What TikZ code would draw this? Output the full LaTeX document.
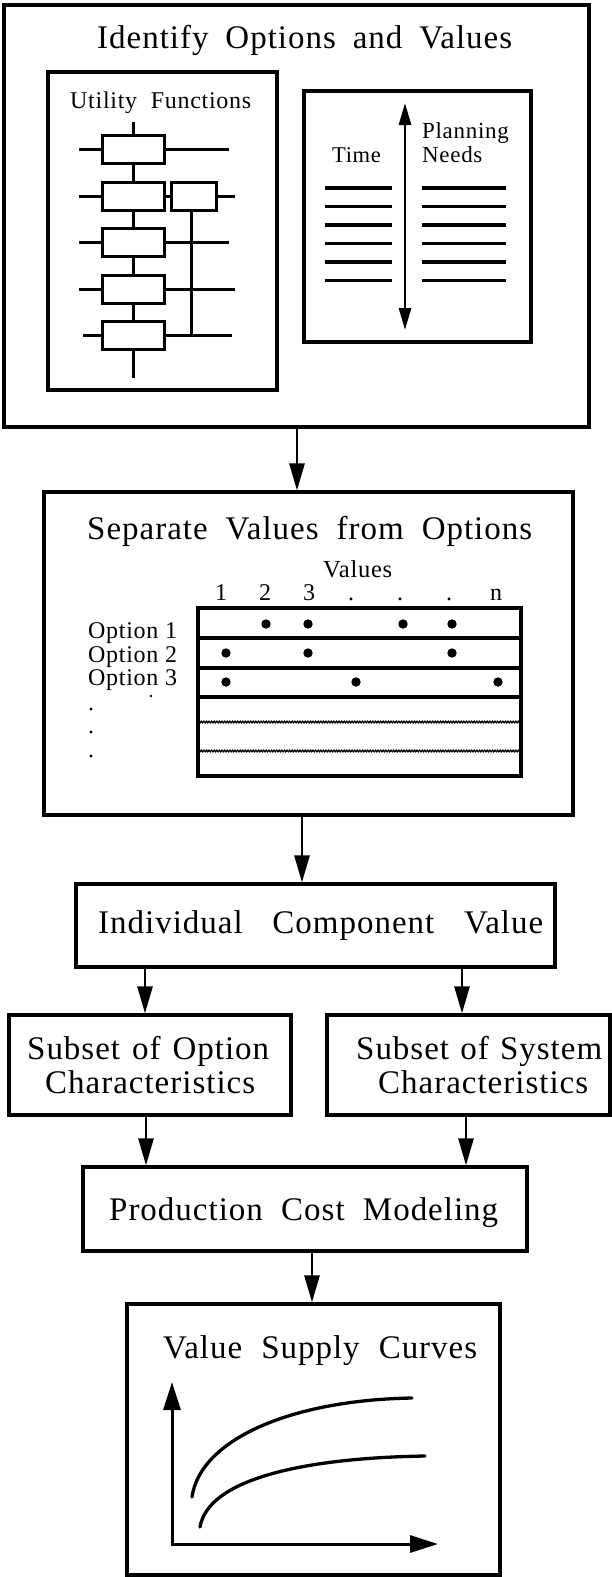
\documentclass[tikz,border=0pt]{standalone}
\usepackage{fontspec}
\setmainfont{Liberation Serif}[LetterSpace=3]
\usetikzlibrary{arrows.meta,fit,decorations.pathmorphing}
\begin{document}
\begin{tikzpicture}[x=1pt,y=-1pt,
  frame/.style={draw, line width=3.2pt, inner sep=0pt},
  ubox/.style={draw, fill=white, line width=3pt, inner sep=0pt, minimum width=62pt, minimum height=28pt},
  conn/.style={line width=2.8pt, -{Triangle[length=27pt,width=15pt]}},
  head/.style={anchor=base west, inner sep=0pt, font=\fontsize{33}{38}\selectfont},
  lab/.style={anchor=base west, inner sep=0pt, font=\fontsize{24}{28}\selectfont},
  num/.style={anchor=base, inner sep=0pt, font=\fontsize{24}{28}\selectfont},
  thick line/.style={line width=3pt}]
\useasboundingbox (0,0) rectangle (612,1577);
\fill[white] (0,0) rectangle (612,1577);

% ---------- main boxes ----------
\node[frame, fit={(4,5) (589,427)}] (box1) {};
\node[frame, fit={(44,492) (573,815)}] (box2) {};
\node[frame, fit={(76,884) (555,967)}] (box3) {};
\node[frame, fit={(9,1015) (291,1115)}] (box4a) {};
\node[frame, fit={(327,1015) (610,1115)}] (box4b) {};
\node[frame, fit={(83,1167) (527,1251)}] (box5) {};
\node[frame, fit={(127,1304) (500,1575)}] (box6) {};

% ---------- titles ----------
\node[head] (t1) at (97,48) {\makebox[415pt][s]{Identify Options and Values}};
\node[head] (t2) at (87,539) {\makebox[445pt][s]{Separate Values from Options}};
\node[head] (t3) at (98,933) {\makebox[445pt][s]{Individual Component Value}};
\node[head] (t4a) at (27,1059) {\makebox[242pt][s]{Subset of Option}};
\node[head] (t4b) at (45,1093) {Characteristics};
\node[head] (t4c) at (356,1059) {\makebox[246pt][s]{Subset of System}};
\node[head] (t4d) at (378,1093) {Characteristics};
\node[head] (t5) at (109,1220) {\makebox[389pt][s]{Production Cost Modeling}};
\node[head] (t6) at (163,1358) {\makebox[314pt][s]{Value Supply Curves}};

% ---------- connectors ----------
\coordinate (g1) at (297,0);
\coordinate (g2) at (302,0);
\coordinate (g3) at (145,0);
\coordinate (g4) at (462,0);
\coordinate (g5) at (146,0);
\coordinate (g6) at (466,0);
\coordinate (g7) at (312,0);
\draw[conn] (box1.south -| g1) -- (box2.north -| g1);
\draw[conn] (box2.south -| g2) -- (box3.north -| g2);
\draw[conn] (box3.south -| g3) -- (box4a.north -| g3);
\draw[conn] (box3.south -| g4) -- (box4b.north -| g4);
\draw[conn] (box4a.south -| g5) -- (box5.north -| g5);
\draw[conn] (box4b.south -| g6) -- (box5.north -| g6);
\draw[conn] (box5.south -| g7) -- (box6.north -| g7);

% ---------- utility functions panel ----------
\node[frame, fit={(48,72) (277,390)}] (ubox) {};
\node[lab] (ulab) at (70,108) {\makebox[181pt][s]{Utility Functions}};
\draw[thick line] (133,122) -- (133,378);
\draw[thick line] (191,196) -- (191,335);
\node[ubox] (u1) at (133,149) {};
\node[ubox] (u2) at (133,196) {};
\node[ubox] (u3) at (133,242) {};
\node[ubox] (u4) at (133,289) {};
\node[ubox] (u5) at (133,335) {};
\node[ubox, minimum width=45pt] (u6) at (193.5,196) {};
\draw[thick line] (u1.west) -- ++(-22,0);
\draw[thick line] (u2.west) -- ++(-22,0);
\draw[thick line] (u3.west) -- ++(-22,0);
\draw[thick line] (u4.west) -- ++(-22,0);
\draw[thick line] (u5.west) -- ++(-18,0);
\draw[thick line] (u1.east) -- ++(63,0);
\draw[thick line] (u2.east) -- (u6.west);
\draw[thick line] (u6.east) -- ++(17,0);
\draw[thick line] (u3.east) -- ++(63,0);
\draw[thick line] (u4.east) -- ++(69,0);
\draw[thick line] (u5.east) -- ++(66,0);

% ---------- time / planning needs panel ----------
\node[frame, fit={(304,91) (531,342)}] (tbox) {};
\node[lab, font=\fontsize{22.5}{26}\selectfont] (ttime) at (332,162) {Time};
\node[lab, font=\fontsize{23}{26}\selectfont] (tplan) at (422,138) {Planning};
\node[lab, font=\fontsize{23}{26}\selectfont] (tneed) at (422,162) {Needs};
\coordinate (atop) at (405,103);
\coordinate (abot) at (405,330);
\draw[line width=2.8pt, {Triangle[length=22pt,width=12pt]}-{Triangle[length=22pt,width=12pt]}] (atop) -- (abot);
\foreach \yy in {188,206.5,225,243.5,262,280.5} {
  \draw[line width=3.4pt] (325,\yy) -- (392,\yy);
  \draw[line width=3.4pt] (422,\yy) -- (506,\yy);
}

% ---------- options / values table ----------
\node[lab, font=\fontsize{24.5}{28}\selectfont] (vlab) at (323,577) {Values};
\node[num] at (221,600) {1};
\node[num] at (265,600) {2};
\node[num] at (309,600) {3};
\node[num] at (351,600) {.};
\node[num] at (400,600) {.};
\node[num] at (449,600) {.};
\node[num] at (496,600) {n};
\node[lab] (o1) at (88,638) {Option 1};
\node[lab] (o2) at (88,662) {Option 2};
\node[lab] (o3) at (88,685) {Option 3};
\fill (151,696) circle[radius=1.3pt];
\fill (91,709) circle[radius=1.7pt];
\fill (91,732) circle[radius=1.7pt];
\fill (91,756) circle[radius=1.7pt];
\node[frame, fit={(198,608) (521,776)}] (tab) {};
\foreach \yy in {638,668,697} \draw[line width=3.4pt] (198,\yy) -- (521,\yy);
\foreach \yy in {722,751}
  \draw[line width=1.3pt, decorate, decoration={zigzag, segment length=2.6pt, amplitude=0.8pt}] (198,\yy) -- (521,\yy);
\foreach \xx in {266,308,403,452} \fill (\xx,624) circle[radius=4.7pt];
\foreach \xx in {226,308,452} \fill (\xx,653) circle[radius=4.7pt];
\foreach \xx in {226,356,498} \fill (\xx,682) circle[radius=4.7pt];

% ---------- supply curves ----------
\coordinate (ytip) at (172,1382);
\coordinate (xtip) at (438,1544);
\draw[line width=3pt, {Triangle[length=28pt,width=17pt]}-{Triangle[length=28pt,width=17pt]}] (ytip) |- (xtip);
\draw[line width=3.3pt, line cap=round] (192,1497) .. controls (200,1440) and (290,1400) .. (412,1398);
\draw[line width=3.3pt, line cap=round] (200,1527) .. controls (208,1480) and (300,1458) .. (425,1456);
\end{tikzpicture}
\end{document}
